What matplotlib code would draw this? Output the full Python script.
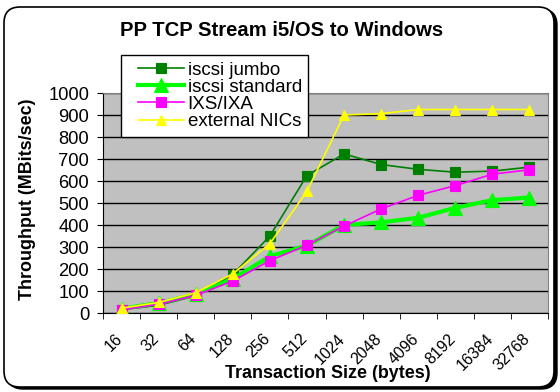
import matplotlib
matplotlib.use("Agg")
import matplotlib.pyplot as plt
from matplotlib.patches import FancyBboxPatch
from matplotlib.transforms import IdentityTransform, ScaledTranslation
from matplotlib.legend_handler import HandlerLine2D
from matplotlib.lines import Line2D
import numpy as np

plt.rcParams['font.family'] = ['Liberation Sans', 'DejaVu Sans']

categories = ["16", "32", "64", "128", "256", "512", "1024", "2048", "4096", "8192", "16384", "32768"]
iscsi_jumbo = [15, 35, 78, 175, 350, 625, 723, 675, 653, 640, 645, 663]
iscsi_standard = [20, 45, 85, 155, 258, 306, 400, 412, 433, 478, 513, 525]
ixs_ixa = [15, 40, 80, 145, 238, 308, 395, 473, 535, 579, 631, 651]
external_nics = [22, 48, 92, 178, 315, 553, 900, 906, 925, 925, 925, 925]

W, H = 560, 392
fig = plt.figure(figsize=(W / 100, H / 100), dpi=100)
fig.patch.set_facecolor('white')

# outer rounded frame with shadow (pixel coordinates, y up)
shadow = FancyBboxPatch((7, 3), 550, 380,
                        boxstyle="round,pad=0,rounding_size=16",
                        transform=IdentityTransform(), facecolor='black',
                        edgecolor='black', lw=1, zorder=0)
frame = FancyBboxPatch((4, 5), 550, 380,
                       boxstyle="round,pad=0,rounding_size=16",
                       transform=IdentityTransform(), facecolor='white',
                       edgecolor='black', lw=1.2, zorder=0.5)
fig.patches.extend([shadow, frame])

left, right, top, bottom = 103, 548, 93, 313
ax = fig.add_axes([left / W, (H - bottom) / H, (right - left) / W, (bottom - top) / H])
ax.set_zorder(2)
ax.set_facecolor('#C0C0C0')
for s in ['top', 'right']:
    ax.spines[s].set_color('#808080')
for s in ['left', 'bottom']:
    ax.spines[s].set_color('black')

x = np.arange(len(categories))
ax.plot(x, iscsi_jumbo, color='#008000', lw=1.2, marker='s', ms=6.5, mew=0.8,
        mfc='#008000', mec='#008000', label='iscsi jumbo', zorder=3)
ax.plot(x, iscsi_standard, color='#00FF00', lw=3, marker='^', ms=9.5, mew=0.8,
        mfc='#00FF00', mec='#00FF00', label='iscsi standard', zorder=3)
ax.plot(x, ixs_ixa, color='#FF00FF', lw=1.2, marker='s', ms=6.5, mew=0.8,
        mfc='#FF00FF', mec='#FF00FF', label='IXS/IXA', zorder=3)
ax.plot(x, external_nics, color='#FFFF00', lw=1.2, marker='^', ms=7.5, mew=0.8,
        mfc='#FFFF00', mec='#FFFF00', label='external NICs', zorder=3)

ax.set_xlim(-0.5, len(categories) - 0.5)
ax.set_ylim(0, 1000)
ax.set_yticks(np.arange(0, 1001, 100))
ax.yaxis.grid(True, color='black', lw=1)
ax.set_axisbelow(True)
ax.tick_params(axis='y', direction='out', length=4, labelsize=13.2, pad=6)

ax.set_xticks(x)
ax.set_xticklabels(categories, rotation=45, ha='right', va='top',
                   rotation_mode='anchor', fontsize=11.5)
ax.set_xticks(np.arange(-0.5, len(categories), 1), minor=True)
ax.tick_params(axis='x', which='major', length=0, pad=13)
ax.tick_params(axis='x', which='minor', direction='out', length=4)
shift = ScaledTranslation(-7 / 100, 0, fig.dpi_scale_trans)
for lab in ax.get_xticklabels():
    lab.set_transform(lab.get_transform() + shift)

fig.text(28 / W, 1 - 199 / H, 'Throughput (MBits/sec)', fontsize=12.9,
         fontweight='bold', rotation=90, ha='center', va='center')
fig.text(328 / W, 1 - 373 / H, 'Transaction Size (bytes)', fontsize=12.9,
         fontweight='bold', ha='center', va='center')

fig.text(282 / W, 1 - 30 / H, 'PP TCP Stream i5/OS to Windows', fontsize=14.6,
         fontweight='bold', ha='center', va='center')

leg = ax.legend(loc='upper left', bbox_to_anchor=(121 / W, 1 - 55 / H),
                bbox_transform=fig.transFigure, fontsize=13.5, frameon=True,
                fancybox=False, edgecolor='black', framealpha=1,
                borderpad=0.35, labelspacing=0.0, handlelength=3.0,
                handletextpad=0.2, borderaxespad=0,
                handler_map={Line2D: HandlerLine2D(xpad=0.55)})
leg.get_frame().set_linewidth(1)

# place the legend frame's top-left corner exactly at (121, 55) px
fig.canvas.draw()
bb = leg.get_frame().get_window_extent()
dx = 121 - bb.x0
dy = (H - 55) - bb.y1
leg.set_bbox_to_anchor(((121 + dx) / W, (H - 55 + dy) / H), transform=fig.transFigure)

fig.savefig('out.png', dpi=100)
